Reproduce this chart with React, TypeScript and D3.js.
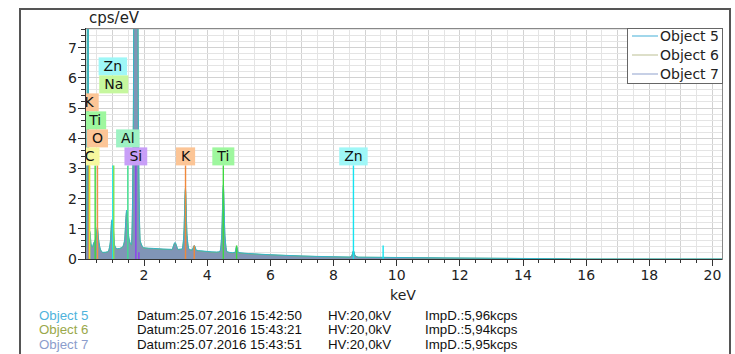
import React, { useEffect, useRef } from "react";
import * as d3 from "d3";

// energy channels (keV) shared by the three spectra
const keV = [
  0.13, 0.17, 0.2, 0.22, 0.24, 0.27, 0.29, 0.32, 0.36, 0.41,
  0.45, 0.49, 0.52, 0.56, 0.62, 0.7, 0.85, 0.93, 0.98, 1.02,
  1.07, 1.15, 1.3, 1.38, 1.45, 1.52, 1.6, 1.66, 1.69, 1.74,
  1.79, 1.82, 1.88, 2.0, 2.3, 2.6, 2.88, 2.98, 3.08, 3.2,
  3.26, 3.31, 3.36, 3.43, 3.52, 3.59, 3.66, 3.8, 4.0, 4.3,
  4.4, 4.46, 4.51, 4.56, 4.63, 4.8, 4.88, 4.93, 4.98, 5.1,
  5.5, 6.0, 6.5, 7.0, 7.5, 8.0, 8.5, 8.58, 8.63, 8.68,
  8.8, 9.5, 10.0, 11.0, 12.0, 13.0, 14.0, 15.0, 15.5, 16.0,
  20.3,
];

// cps/eV
const cpsObject5 = [
  0.3, 0.5, 6.0, 22.0, 5.0, 0.95, 0.9, 0.5, 0.4, 0.55,
  0.62, 0.8, 1.05, 0.65, 0.32, 0.22, 0.24, 0.55, 1.3, 1.15,
  0.45, 0.34, 0.38, 0.6, 1.62, 0.7, 0.48, 4.6, 16.0, 35.0,
  16.0, 4.6, 0.6, 0.37, 0.35, 0.33, 0.32, 0.55, 0.32, 0.33,
  0.8, 2.35, 0.8, 0.32, 0.3, 0.45, 0.29, 0.27, 0.25, 0.23,
  0.25, 0.8, 2.45, 0.8, 0.24, 0.21, 0.22, 0.42, 0.22, 0.2,
  0.17, 0.14, 0.12, 0.1, 0.085, 0.075, 0.065, 0.12, 0.28, 0.12,
  0.06, 0.055, 0.05, 0.04, 0.032, 0.025, 0.018, 0.01, 0.004, 0.0,
  0.0,
];

const cpsObject6 = [
  0.28, 0.48, 5.5, 20.0, 4.6, 0.9, 0.86, 0.48, 0.38, 0.52,
  0.6, 0.78, 1.0, 0.62, 0.3, 0.21, 0.23, 0.52, 1.25, 1.1,
  0.43, 0.33, 0.37, 0.58, 1.55, 0.68, 0.46, 4.4, 15.5, 34.0,
  15.5, 4.4, 0.58, 0.36, 0.34, 0.32, 0.31, 0.52, 0.31, 0.32,
  0.78, 2.28, 0.78, 0.31, 0.29, 0.43, 0.28, 0.26, 0.24, 0.22,
  0.24, 0.78, 2.38, 0.78, 0.23, 0.2, 0.21, 0.4, 0.21, 0.19,
  0.16, 0.135, 0.115, 0.095, 0.08, 0.07, 0.06, 0.11, 0.26, 0.11,
  0.058, 0.052, 0.048, 0.038, 0.03, 0.023, 0.016, 0.009, 0.003, 0.0,
  0.0,
];

const cpsObject7 = [
  0.29, 0.49, 5.8, 21.0, 4.8, 0.92, 0.88, 0.49, 0.39, 0.53,
  0.61, 0.79, 1.02, 0.63, 0.31, 0.21, 0.23, 0.53, 1.27, 1.12,
  0.44, 0.33, 0.37, 0.59, 1.58, 0.69, 0.47, 4.5, 15.8, 34.5,
  15.8, 4.5, 0.59, 0.36, 0.34, 0.32, 0.31, 0.53, 0.31, 0.32,
  0.79, 2.3, 0.79, 0.31, 0.29, 0.44, 0.28, 0.26, 0.24, 0.22,
  0.24, 0.79, 2.4, 0.79, 0.23, 0.2, 0.21, 0.41, 0.21, 0.19,
  0.165, 0.137, 0.117, 0.097, 0.082, 0.072, 0.062, 0.115, 0.27, 0.115,
  0.059, 0.053, 0.049, 0.039, 0.031, 0.024, 0.017, 0.0095, 0.0035, 0.0,
  0.0,
];

const seriesNames = ["Object 5", "Object 6", "Object 7"];
const seriesDates = ["25.07.2016 15:42:50", "25.07.2016 15:43:21", "25.07.2016 15:43:51"];
const seriesHV = ["20,0kV", "20,0kV", "20,0kV"];
const seriesImpD = ["5,96kcps", "5,94kcps", "5,95kcps"];

// element labels (row = stacking level above the base row)
const markerElements = ["Zn", "Na", "K", "Ti", "O", "Al", "C", "Si", "K", "Ti", "Zn"];
const markerKeV = [1.012, 1.041, 0.26, 0.452, 0.525, 1.486, 0.277, 1.74, 3.313, 4.51, 8.63];
const markerRow = [5, 4, 3, 2, 1, 1, 0, 0, 0, 0, 0];

// weaker lines without a label
const minorElements = ["Si", "K", "Ti", "Zn"];
const minorKeV = [1.836, 3.59, 4.93, 9.57];
const minorCps = [0.22, 0.45, 0.45, 0.45];

const xTickLabels = [2, 4, 6, 8, 10, 12, 14, 16, 18, 20];
const yTickLabels = [0, 1, 2, 3, 4, 5, 6, 7];

const seriesFill = ["#45b2d6", "#98a84c", "#7f92bd"];
const seriesStroke = ["#35b4c8", "#7fb070", "#7f93c4"];
const legendLine = ["#62bddd", "#c6caa4", "#a2b1d6"];
const infoColor = ["#4fb3dc", "#9aa84a", "#8c9dcc"];

const elementStyle: Record<string, { box: string; line: string }> = {
  Zn: { box: "#9ff7f7", line: "#14e4f0" },
  Na: { box: "#c6f79e", line: "#7ee050" },
  K: { box: "#fcc596", line: "#f0883a" },
  Ti: { box: "#9ef79e", line: "#3ed83e" },
  O: { box: "#fcc596", line: "#f09448" },
  Al: { box: "#9ef2c4", line: "#3ee08e" },
  C: { box: "#f7f79e", line: "#e6e622" },
  Si: { box: "#c89ef7", line: "#8e3ef0" },
};

const width = 735;
const height = 354;

export default function App() {
  const ref = useRef<SVGSVGElement>(null);

  useEffect(() => {
    const svg = d3.select(ref.current);
    svg.selectAll("*").remove();

    const left = 85;
    const right = 722;
    const top = 28;
    const bottom = 259;

    const x = d3.scaleLinear().domain([0.13, 20.3]).range([left, right]);
    const y = d3.scaleLinear().domain([0, 7.65]).range([bottom, top]);

    // outer frame
    svg
      .append("rect")
      .attr("x", 20)
      .attr("y", 9)
      .attr("width", 710)
      .attr("height", 400)
      .attr("fill", "none")
      .attr("stroke", "#555")
      .attr("stroke-width", 2);

    svg
      .append("defs")
      .append("clipPath")
      .attr("id", "plotClip")
      .append("rect")
      .attr("x", left)
      .attr("y", top)
      .attr("width", right - left)
      .attr("height", bottom - top);

    // grid
    const grid = svg.append("g").attr("shape-rendering", "crispEdges");
    const vGrid = d3.range(1, 41).map((i) => i * 0.5);
    grid
      .selectAll("line.v")
      .data(vGrid)
      .join("line")
      .attr("x1", (d) => x(d))
      .attr("x2", (d) => x(d))
      .attr("y1", top)
      .attr("y2", bottom)
      .attr("stroke", (d) => (d % 1 === 0 ? "#d2d2d2" : "#e4e4e4"));
    const hGrid = d3.range(1, 39).map((i) => i);
    grid
      .selectAll("line.h")
      .data(hGrid)
      .join("line")
      .attr("x1", left)
      .attr("x2", right)
      .attr("y1", (i) => y(i * 0.2))
      .attr("y2", (i) => y(i * 0.2))
      .attr("stroke", (i) => (i % 5 === 0 ? "#d2d2d2" : "#e4e4e4"));

    const plot = svg.append("g").attr("clip-path", "url(#plotClip)");

    // spectra
    const series = [cpsObject5, cpsObject6, cpsObject7];
    const area = d3
      .area<number>()
      .x((_, i) => x(keV[i]))
      .y0(y(0))
      .y1((d) => y(d))
      .curve(d3.curveMonotoneX);
    const line = d3
      .line<number>()
      .x((_, i) => x(keV[i]))
      .y((d) => y(d))
      .curve(d3.curveMonotoneX);

    series.forEach((s, k) => {
      plot
        .append("path")
        .datum(s)
        .attr("d", area)
        .attr("fill", seriesFill[k])
        .attr("fill-opacity", k === 2 ? 0.92 : 0.75);
    });
    [1, 0].forEach((k) => {
      plot
        .append("path")
        .datum(series[k])
        .attr("d", line)
        .attr("fill", "none")
        .attr("stroke", seriesStroke[k])
        .attr("stroke-width", 1);
    });

    // marker lines: all drop from the base label row to the axis
    const rowBase = y(3.1);
    const rowStep = 18;
    plot
      .selectAll("line.minor")
      .data(minorElements)
      .join("line")
      .attr("x1", (_, i) => x(minorKeV[i]))
      .attr("x2", (_, i) => x(minorKeV[i]))
      .attr("y1", (_, i) => y(minorCps[i]))
      .attr("y2", y(0))
      .attr("stroke", (d) => elementStyle[d].line)
      .attr("stroke-width", 1.4);

    plot
      .selectAll("line.marker")
      .data(markerElements)
      .join("line")
      .attr("x1", (_, i) => x(markerKeV[i]))
      .attr("x2", (_, i) => x(markerKeV[i]))
      .attr("y1", rowBase)
      .attr("y2", y(0))
      .attr("stroke", (d) => elementStyle[d].line)
      .attr("stroke-width", 1.4);

    // label boxes
    markerElements.forEach((el, i) => {
      const cx = x(markerKeV[i]);
      const yb = rowBase - markerRow[i] * rowStep;
      const g = plot.append("g");
      const rect = g.append("rect").attr("fill", elementStyle[el].box);
      const t = g
        .append("text")
        .attr("x", cx)
        .attr("y", yb - 4)
        .attr("text-anchor", "middle")
        .attr("font-size", 14)
        .attr("fill", "#111")
        .text(el);
      const tw = (t.node() as SVGTextElement).getComputedTextLength();
      rect
        .attr("x", cx - tw / 2 - 5)
        .attr("y", yb - rowStep)
        .attr("width", tw + 10)
        .attr("height", rowStep);
    });

    // plot border
    svg
      .append("rect")
      .attr("x", left)
      .attr("y", top)
      .attr("width", right - left)
      .attr("height", bottom - top)
      .attr("fill", "none")
      .attr("stroke", "#888")
      .attr("shape-rendering", "crispEdges");

    const axes = svg.append("g").attr("stroke", "#333").attr("shape-rendering", "crispEdges");
    axes.append("line").attr("x1", left).attr("x2", left).attr("y1", top).attr("y2", bottom);
    axes.append("line").attr("x1", left).attr("x2", right).attr("y1", bottom).attr("y2", bottom);

    // x ticks
    const xMinor = d3.range(1, 41).map((i) => i * 0.5);
    axes
      .selectAll("line.xt")
      .data(xMinor)
      .join("line")
      .attr("x1", (d) => x(d))
      .attr("x2", (d) => x(d))
      .attr("y1", bottom)
      .attr("y2", (d) => bottom + (d % 2 === 0 ? 7 : 4));
    svg
      .append("g")
      .selectAll("text")
      .data(xTickLabels)
      .join("text")
      .attr("x", (d) => x(d))
      .attr("y", 280)
      .attr("text-anchor", "middle")
      .attr("font-size", 14)
      .attr("fill", "#222")
      .text((d) => d);

    // y ticks
    const yMinor = d3.range(0, 39);
    axes
      .selectAll("line.yt")
      .data(yMinor)
      .join("line")
      .attr("x1", (i) => left - (i % 5 === 0 ? 7 : 4))
      .attr("x2", left)
      .attr("y1", (i) => y(i * 0.2))
      .attr("y2", (i) => y(i * 0.2));
    svg
      .append("g")
      .selectAll("text")
      .data(yTickLabels)
      .join("text")
      .attr("x", 77)
      .attr("y", (d) => y(d) + 5)
      .attr("text-anchor", "end")
      .attr("font-size", 14)
      .attr("fill", "#222")
      .text((d) => d);

    svg
      .append("text")
      .attr("x", 89)
      .attr("y", 23)
      .attr("font-size", 15)
      .attr("fill", "#222")
      .text("cps/eV");
    svg
      .append("text")
      .attr("x", 403)
      .attr("y", 300)
      .attr("text-anchor", "middle")
      .attr("font-size", 14)
      .attr("fill", "#222")
      .text("keV");

    // legend
    const legend = svg.append("g");
    legend
      .append("rect")
      .attr("x", 627)
      .attr("y", top)
      .attr("width", right - 627)
      .attr("height", 55)
      .attr("fill", "#fff")
      .attr("stroke", "#666")
      .attr("shape-rendering", "crispEdges");
    seriesNames.forEach((name, i) => {
      const cy = 36 + i * 19;
      legend
        .append("line")
        .attr("x1", 632)
        .attr("x2", 658)
        .attr("y1", cy)
        .attr("y2", cy)
        .attr("stroke", legendLine[i])
        .attr("stroke-width", 1.2);
      legend
        .append("text")
        .attr("x", 660)
        .attr("y", cy + 5)
        .attr("font-size", 14)
        .attr("fill", "#222")
        .text(name);
    });

    // acquisition info
    const info = svg
      .append("g")
      .attr("font-family", "Liberation Sans, Arial, sans-serif")
      .attr("font-size", 13.3);
    seriesNames.forEach((name, i) => {
      const by = 319.5 + i * 14.5;
      info.append("text").attr("x", 39).attr("y", by).attr("fill", infoColor[i]).text(name);
      info.append("text").attr("x", 137).attr("y", by).attr("fill", "#111").text("Datum:" + seriesDates[i]);
      info.append("text").attr("x", 328).attr("y", by).attr("fill", "#111").text("HV:" + seriesHV[i]);
      info.append("text").attr("x", 425).attr("y", by).attr("fill", "#111").text("ImpD.:" + seriesImpD[i]);
    });
  }, []);

  return (
    <div>
      <svg
        ref={ref}
        width={width}
        height={height}
        fontFamily="DejaVu Sans, Verdana, sans-serif"
        style={{ position: "absolute", left: 0, top: 0, background: "#fff" }}
      />
    </div>
  );
}
